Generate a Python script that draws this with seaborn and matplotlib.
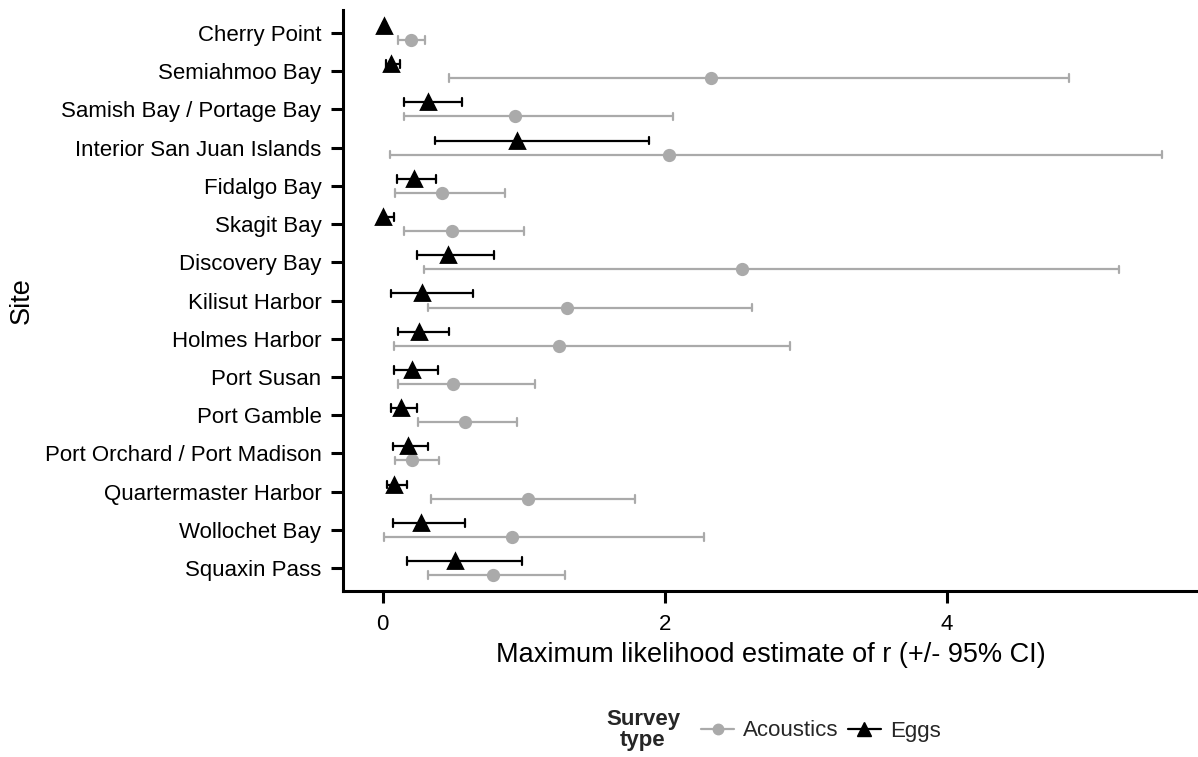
import numpy as np
import pandas as pd
import matplotlib
matplotlib.use("Agg")
import matplotlib.pyplot as plt
from matplotlib.lines import Line2D
import seaborn as sns

# Sites, top to bottom
sites = [
    "Cherry Point", "Semiahmoo Bay", "Samish Bay / Portage Bay",
    "Interior San Juan Islands", "Fidalgo Bay", "Skagit Bay",
    "Discovery Bay", "Kilisut Harbor", "Holmes Harbor", "Port Susan",
    "Port Gamble", "Port Orchard / Port Madison", "Quartermaster Harbor",
    "Wollochet Bay", "Squaxin Pass",
]

# Maximum likelihood estimates of r with 95% CI, acoustic surveys
acou_est = [0.20, 2.33, 0.94, 2.03, 0.42, 0.49, 2.55, 1.31, 1.25, 0.50, 0.58, 0.21, 1.03, 0.92, 0.78]
acou_lo = [0.11, 0.47, 0.15, 0.05, 0.09, 0.15, 0.29, 0.32, 0.08, 0.11, 0.25, 0.09, 0.34, 0.01, 0.32]
acou_hi = [0.30, 4.87, 2.06, 5.53, 0.87, 1.00, 5.22, 2.62, 2.89, 1.08, 0.95, 0.40, 1.79, 2.28, 1.29]

# Same for egg surveys
egg_est = [0.01, 0.06, 0.32, 0.95, 0.22, 0.00, 0.46, 0.28, 0.26, 0.21, 0.13, 0.18, 0.08, 0.27, 0.51]
egg_lo = [0.00, 0.02, 0.15, 0.37, 0.10, 0.00, 0.24, 0.06, 0.11, 0.08, 0.06, 0.07, 0.03, 0.07, 0.17]
egg_hi = [0.02, 0.12, 0.56, 1.89, 0.38, 0.08, 0.79, 0.64, 0.47, 0.39, 0.24, 0.32, 0.17, 0.58, 0.99]

survey_types = ["Acoustics", "Eggs"]
colors = {"Acoustics": "#AAAAAA", "Eggs": "#000000"}

# Long table: lower bound, estimate, upper bound per site and survey.
# The median of the three is the estimate, min/max give the interval.
rows = []
for kind, est, lo, hi in [("Acoustics", acou_est, acou_lo, acou_hi),
                          ("Eggs", egg_est, egg_lo, egg_hi)]:
    for s, e, l, h in zip(sites, est, lo, hi):
        for v in (l, e, h):
            rows.append({"site": s, "survey": kind, "value": v})
df = pd.DataFrame(rows)

sns.set_theme(style="ticks")
plt.rcParams["font.family"] = ["Liberation Sans", "DejaVu Sans"]

fig = plt.figure(figsize=(11.98, 7.57), dpi=100)
W, H = 1198, 757
ax = fig.add_axes([343 / W, 1 - 591 / H, (W - 343) / W, (591 - 10) / H])

sns.pointplot(
    data=df, x="value", y="site", hue="survey",
    order=sites, hue_order=["Eggs", "Acoustics"],
    estimator="median", errorbar=lambda v: (v.min(), v.max()),
    dodge=0.37, markers=["^", "o"], palette=colors,
    linestyle="none", capsize=0.2, err_kws={"linewidth": 1.6},
    legend=False, ax=ax,
)

for ln in ax.lines:
    m = ln.get_marker()
    if m == "^":
        ln.set_markersize(10)
        ln.set_zorder(4)
    elif m == "o":
        ln.set_markersize(7.5)
        ln.set_zorder(3)

ax.set_xlim(-0.282, 5.783)
ax.set_ylim(len(sites) - 0.4, -0.6)
ax.set_xticks([0, 2, 4])
ax.set_xticklabels(["0", "2", "4"])

sns.despine(ax=ax)
for side in ("left", "bottom"):
    ax.spines[side].set_linewidth(2.2)
    ax.spines[side].set_color("black")
ax.tick_params(axis="both", length=8.5, width=2.2, color="black",
               labelsize=16, labelcolor="black")
ax.tick_params(axis="y", pad=7)
ax.tick_params(axis="x", pad=8)

ax.set_xlabel("Maximum likelihood estimate of r (+/- 95% CI)", fontsize=19.5,
              color="black", labelpad=5)
ax.set_ylabel("Site", fontsize=19.5, color="black")
ax.yaxis.label.set_verticalalignment("center")
ax.yaxis.set_label_coords((22 - 343) / (W - 343), 0.5)

# Legend: bold title on the left, entries in one row
handles = [
    Line2D([], [], color=colors["Acoustics"], marker="o", markersize=7.5, linewidth=1.6),
    Line2D([], [], color=colors["Eggs"], marker="^", markersize=10, linewidth=1.6),
]
fig.legend(handles, survey_types, loc="center left",
           bbox_to_anchor=(701 / W, 1 - 731 / H), ncol=2, frameon=False,
           fontsize=16, handlelength=1.5, handletextpad=0.4,
           columnspacing=0.4, borderpad=0, borderaxespad=0)
fig.text(643 / W, 1 - 730 / H, "Survey\ntype", ha="center", va="center",
         fontsize=16, fontweight="bold", linespacing=1.05)

fig.savefig("out.png", dpi=100)
